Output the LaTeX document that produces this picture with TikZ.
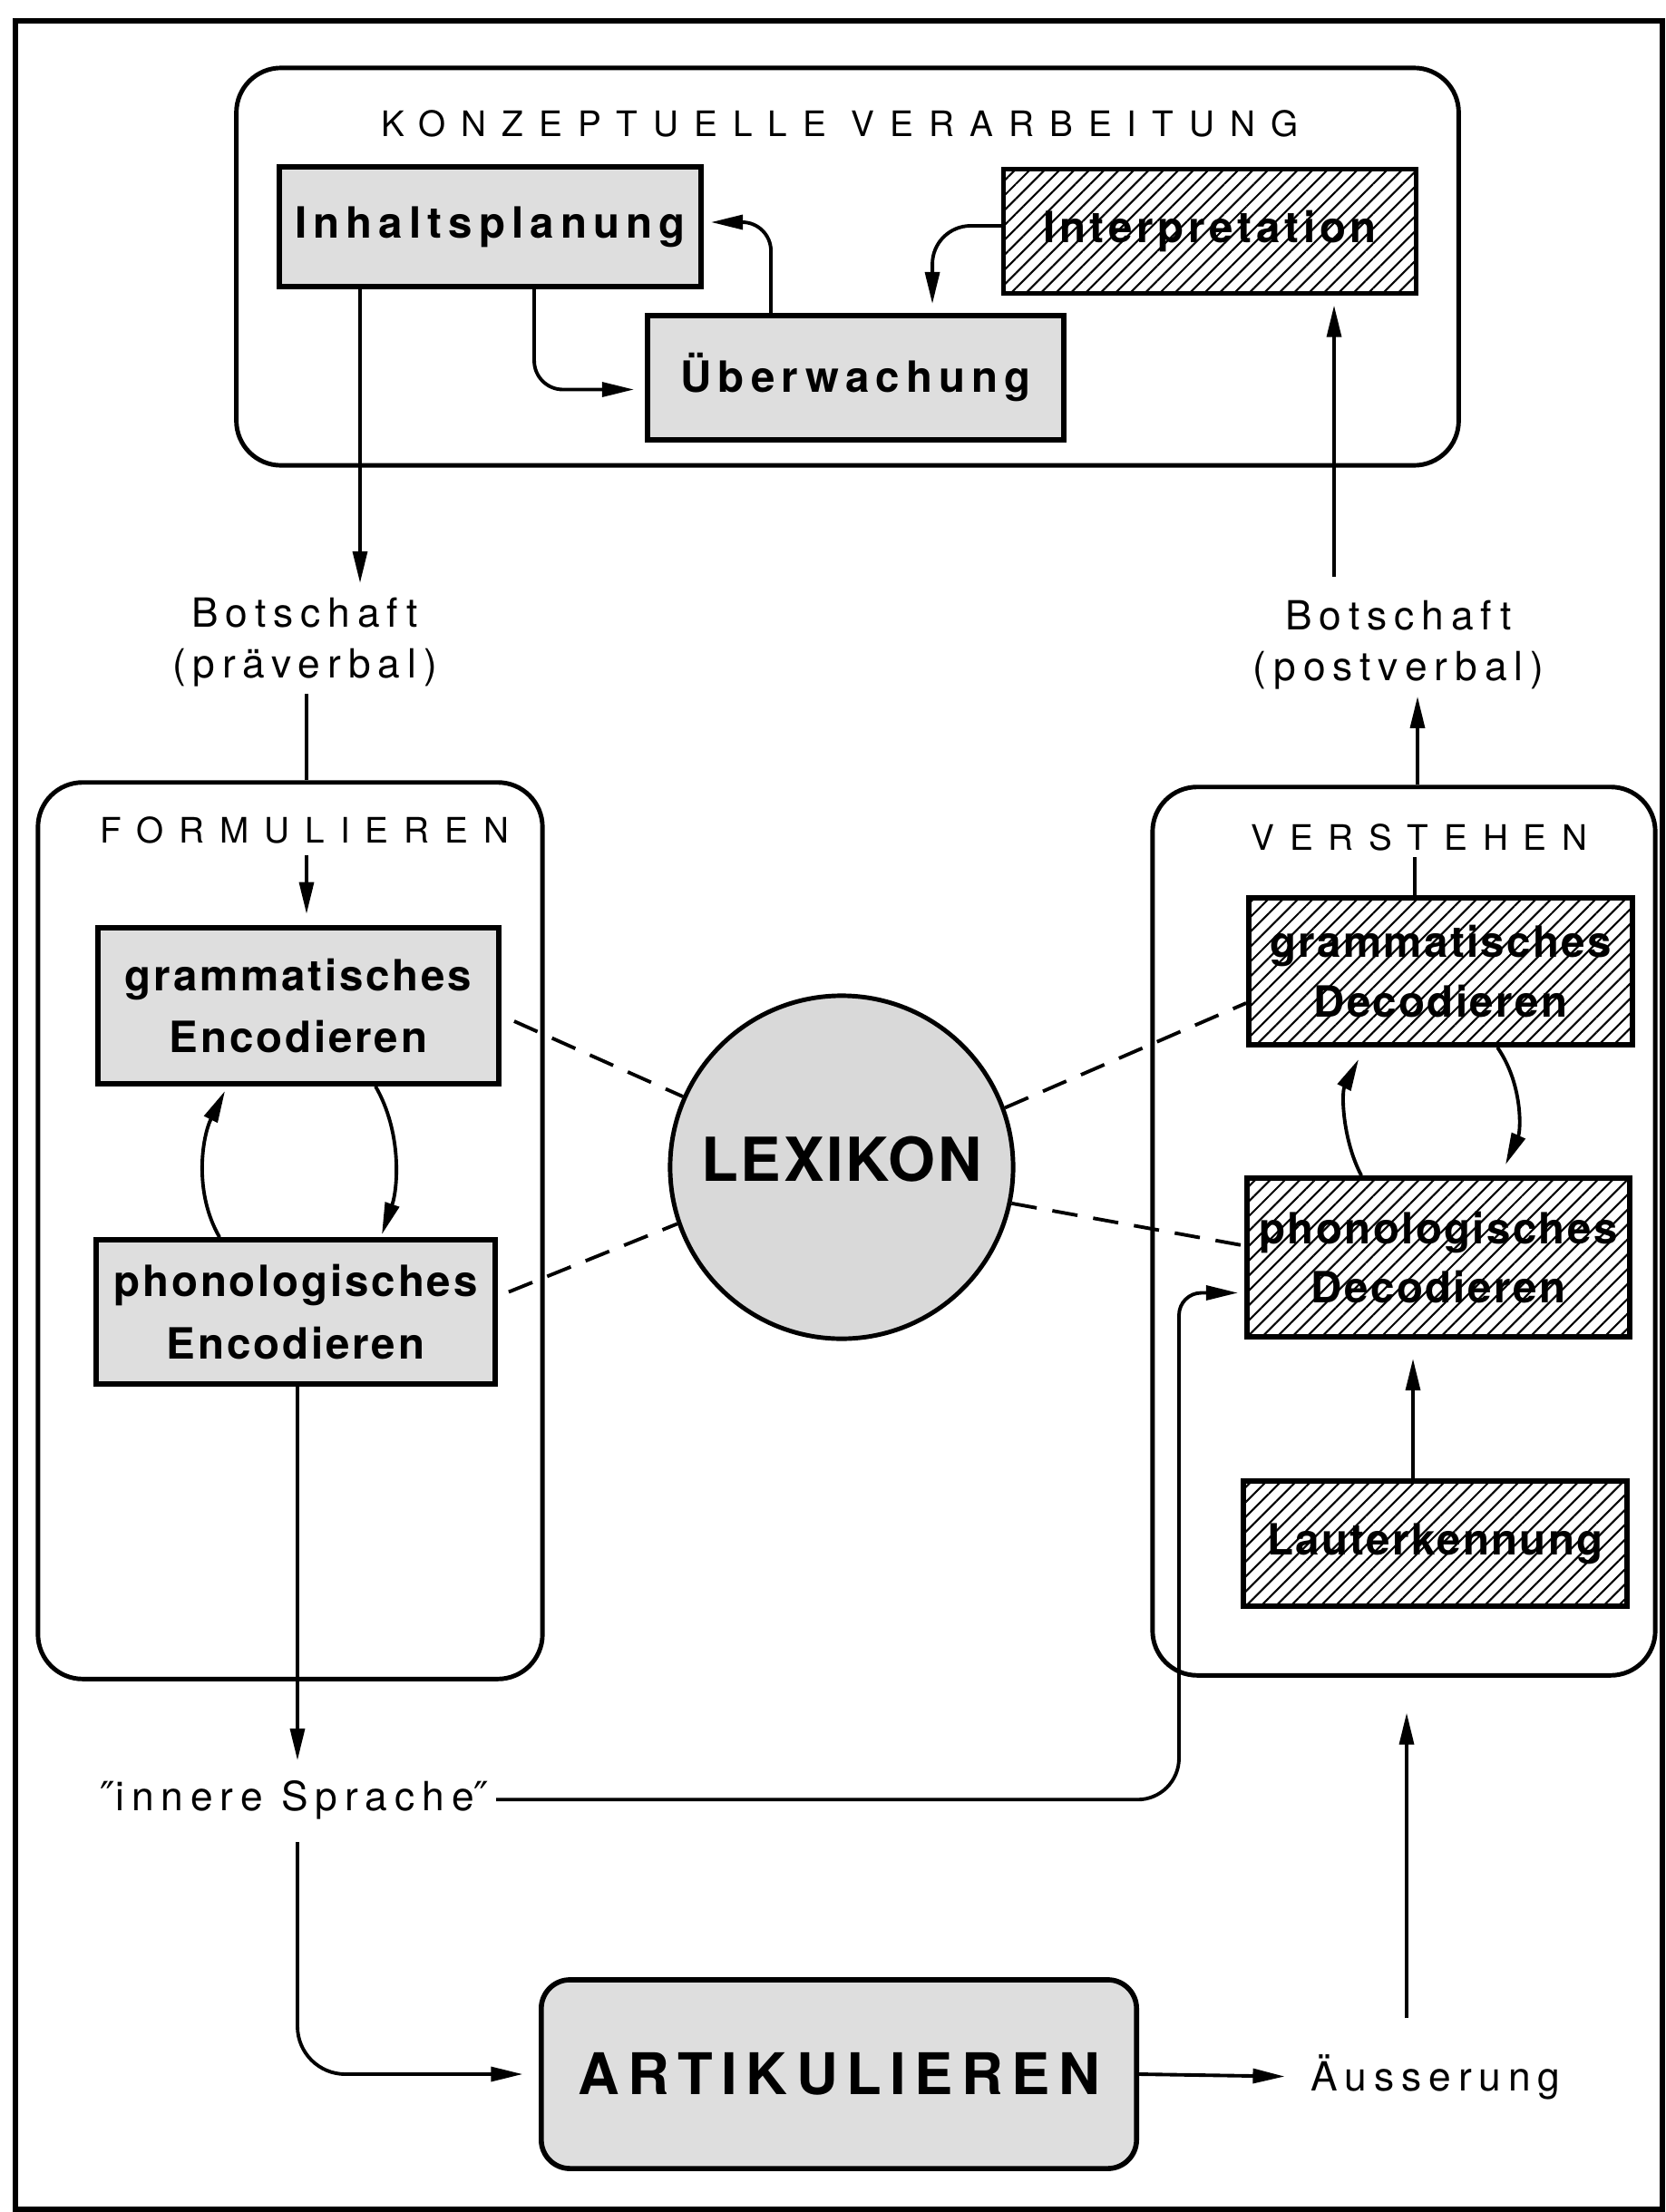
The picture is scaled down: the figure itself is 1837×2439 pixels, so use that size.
\documentclass[tikz,border=0pt]{standalone}
\usepackage{fontspec}
\setmainfont{TeX Gyre Heros}
\newfontfamily\dgDejaVu{DejaVu Sans}
\usetikzlibrary{arrows.meta,patterns.meta,calc}
\definecolor{boxgray}{gray}{0.87}
\definecolor{lexgray}{gray}{0.85}
\newcommand\dgBoxFont{\fontsize{13.5}{19.5}\selectfont\bfseries}
\newcommand\dgHatchFont{\fontsize{13.5}{18.5}\selectfont\bfseries}
\newcommand\dgTitleFont{\fontsize{11}{13}\selectfont\addfontfeatures{LetterSpace=44}}
\newcommand\dgLabelFont{\fontsize{12.6}{15.9}\selectfont\addfontfeatures{LetterSpace=18}}
\newcommand\dgQ{{\dgDejaVu\fontsize{12.6}{15.9}\selectfont ″}}
\begin{document}
\begin{tikzpicture}[x=0.01cm,y=-0.01cm,
  >={Triangle[length=10pt,width=4.5pt]},
  conn/.style={line width=1.1pt},
  container/.style={draw,line width=1.4pt,rounded corners=14pt,inner sep=0pt},
  graybox/.style={draw,line width=1.6pt,fill=boxgray,inner sep=0pt,align=center},
  hatchbox/.style={draw,line width=1.6pt,pattern={Lines[angle=45,distance=3.3pt,line width=0.6pt]},inner sep=0pt,align=center},
  ttl/.style={font=\dgTitleFont,inner sep=2pt,anchor=base},
  lbl/.style={font=\dgLabelFont,align=center,inner sep=2pt},
  dashline/.style={line width=1.1pt,dash pattern=on 8pt off 5pt},
]
\useasboundingbox (0,0) rectangle (1837,2439);
\draw[line width=1.5pt] (17,23) rectangle (1833,2436);

% containers
\node[container,minimum width=13.47cm,minimum height=4.38cm] (konz) at (934.5,294) {};
\node[container,minimum width=5.56cm,minimum height=9.88cm] (form) at (320,1357) {};
\node[container,minimum width=5.54cm,minimum height=9.79cm] (vers) at (1548,1357.5) {};

% titles
\node[ttl] (ktitle) at (926,150) {KONZEPTUELLE VERARBEITUNG};
\node[ttl] (ftitle) at (336,929) {FORMULIEREN};
\node[ttl] (vtitle) at (1565,937) {VERSTEHEN};

% boxes
\node[graybox,minimum width=4.65cm,minimum height=1.32cm,font={\dgBoxFont\addfontfeatures{LetterSpace=15}}] (inh) at (540.5,250) {Inhaltsplanung};
\node[graybox,minimum width=4.59cm,minimum height=1.37cm,font={\dgBoxFont\addfontfeatures{LetterSpace=15}}] (ueb) at (943.5,416.5) {Überwachung};
\node[hatchbox,minimum width=4.55cm,minimum height=1.37cm,font={\dgHatchFont\addfontfeatures{LetterSpace=10}}] (intp) at (1334,255) {Interpretation};

\node[graybox,minimum width=4.42cm,minimum height=1.72cm,font={\dgBoxFont\addfontfeatures{LetterSpace=6}}] (genc) at (329,1109) {grammatisches\\Encodieren};
\node[graybox,minimum width=4.40cm,minimum height=1.59cm,font={\dgBoxFont\addfontfeatures{LetterSpace=6}}] (penc) at (326,1446.5) {phonologisches\\Encodieren};

\node[hatchbox,minimum width=4.23cm,minimum height=1.62cm,font={\dgHatchFont\addfontfeatures{LetterSpace=5}}] (gdec) at (1588.5,1071) {grammatisches\\Decodieren};
\node[hatchbox,minimum width=4.22cm,minimum height=1.75cm,font={\dgHatchFont\addfontfeatures{LetterSpace=5}}] (pdec) at (1586,1386.5) {phonologisches\\Decodieren};
\node[hatchbox,minimum width=4.23cm,minimum height=1.38cm,font={\dgHatchFont\addfontfeatures{LetterSpace=5}}] (laut) at (1582.5,1702) {Lauterkennung};

\node[circle,draw,line width=1.4pt,fill=lexgray,minimum size=3.78cm,inner sep=0pt,text depth=5.5pt,
  font={\fontsize{19}{22}\selectfont\bfseries\addfontfeatures{LetterSpace=4}}] (lex) at (928,1287) {LEXIKON};

\node[draw,line width=1.6pt,fill=boxgray,rounded corners=9pt,minimum width=6.56cm,minimum height=2.08cm,inner sep=0pt,
  font={\fontsize{18}{22}\selectfont\bfseries\addfontfeatures{LetterSpace=15}}] (art) at (925,2287) {ARTIKULIEREN};

% labels
\node[lbl] (bpre) at (336,708) {Botschaft\\(präverbal)};
\node[lbl] (bpost) at (1542,711) {Botschaft\\(postverbal)};
\node[lbl,anchor=base] (innere) at (325,1996) {\dgQ innere Sprache\dgQ};
\node[lbl,anchor=base] (aeus) at (1583,2305) {Äusserung};

% coordinates for straight connectors
\coordinate (c1) at (397,643);
\coordinate (c2) at (338,0);
\coordinate (c3) at (328,0);
\coordinate (c4) at (1300,1700);
\coordinate (c5) at (1551,0);
\coordinate (c6) at (1558,0);
\coordinate (c7) at (1560,0);
\coordinate (c8) at (1563,0);
\coordinate (c9) at (1471,0);

% conceptual level
\draw[conn,->,rounded corners=9pt] ($(inh.south west)+(284,0)$) |- ($(ueb.west)+(-12,13)$);
\draw[conn,->,rounded corners=9pt] ($(ueb.north west)+(139,0)$) |- ($(inh.east)+(8,-5)$);
\draw[conn,->,rounded corners=12pt] ($(intp.west)+(0,-6)$) -| ($(ueb.north west)+(317,-10)$);
\draw[conn,->] (inh.south -| c1) -- (c1);
\draw[conn,->,shorten >=3.4pt] ($(bpost.north -| c9)+(0,-18)$) -- (intp.south -| c9);

% formulator
\draw[conn] (bpre.south -| c2) -- (form.north -| c2);
\draw[conn,->,shorten <=1.5pt,shorten >=3.5pt] (ftitle.south -| c2) -- (genc.north -| c2);
\draw[conn,->] ($(penc.north west)+(139,0)$) .. controls ($(penc.north west)+(110,-50)$) and ($(genc.south west)+(118,55)$) .. ($(genc.south west)+(143,5)$);
\draw[conn,->] ($(genc.south west)+(309,0)$) .. controls ($(genc.south west)+(338,50)$) and ($(penc.north west)+(336,-55)$) .. ($(penc.north west)+(318,-3)$);
\draw[conn,->,shorten >=4pt] (penc.south -| c3) -- (innere.north -| c3);
\draw[conn,->,rounded corners=15pt,shorten <=5pt,shorten >=5pt] (innere.south -| c3) |- (art.west);

% inner speech to comprehension
\draw[conn,->] (innere.east) [rounded corners=13pt] -| (c4) [rounded corners=7pt] |- ($(pdec.west)+(-7,39)$);

% articulation
\draw[conn,->,shorten >=6pt] (art.east) -- (aeus.west);
\draw[conn,->,shorten >=11pt] ($(aeus.north -| c5)+(0,-32)$) -- (vers.south -| c5);

% comprehension
\draw[conn,->,shorten >=6pt] (laut.north -| c6) -- (pdec.south -| c6);
\draw[conn,->] ($(pdec.north west)+(129,0)$) .. controls ($(pdec.north west)+(108,-40)$) and ($(gdec.south west)+(105,50)$) .. ($(gdec.south west)+(124,13)$);
\draw[conn,->] ($(gdec.south west)+(277,0)$) .. controls ($(gdec.south west)+(305,40)$) and ($(pdec.north west)+(305,-50)$) .. ($(pdec.north west)+(288,-12)$);
\draw[conn] (vtitle.south -| c7) -- (gdec.north -| c7);
\draw[conn,->] (vers.north -| c8) -- (bpost.south -| c8);

% lexicon links
\draw[dashline] ($(genc.east)+(14,17)$) -- (lex.156);
\draw[dashline] ($(penc.east)+(12,-22)$) -- (lex.199);
\draw[dashline] (lex.20) -- ($(gdec.west)+(0,35)$);
\draw[dashline] (lex.348) -- ($(pdec.west)+(0,-13)$);
\end{tikzpicture}
\end{document}
